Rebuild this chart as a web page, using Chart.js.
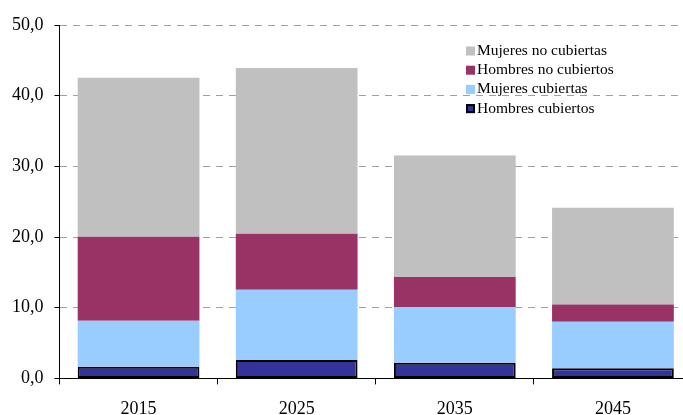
<!DOCTYPE html>
<html>
<head>
<meta charset="utf-8">
<script src="https://cdn.jsdelivr.net/npm/chart.js@4"></script>
<style>
  html, body { margin: 0; padding: 0; overflow: hidden; background: #fff; }
  #wrap { width: 694px; height: 434px; position: relative; }
</style>
</head>
<body>
<div id="wrap"><canvas id="chart"></canvas></div>
<script>
// values
const years = ["2015", "2025", "2035", "2045"];
const hombresCubiertos = [1.65, 2.6, 2.2, 1.45];
const mujeresCubiertas = [6.5, 9.93, 7.9, 6.55];
const hombresNoCubiertos = [11.9, 7.95, 4.25, 2.45];
const mujeresNoCubiertas = [22.5, 23.42, 17.2, 13.7];
const yTicks = [0, 10, 20, 30, 40, 50];

const serif = "'Liberation Serif', 'DejaVu Serif', serif";

// legend drawn inside the plot, top item = top of the stack
const insideLegend = {
    id: "insideLegend",
    afterDraw(chart) {
        const ctx = chart.ctx;
        const items = chart.data.datasets.slice().reverse();
        const x = 466, y0 = 51, step = 19.2, box = 9;
        ctx.save();
        ctx.font = "15.5px " + serif;
        ctx.textBaseline = "middle";
        items.forEach((ds, i) => {
            const y = y0 + i * step;
            ctx.fillStyle = ds.backgroundColor;
            ctx.fillRect(x, y - box / 2, box, box);
            if (ds.borderWidth) {
                ctx.lineWidth = 2;
                ctx.strokeStyle = ds.borderColor;
                ctx.strokeRect(x + 1, y - box / 2 + 1, box - 2, box - 2);
            }
            ctx.fillStyle = "#000";
            ctx.fillText(ds.label, x + 11, y);
        });
        ctx.restore();
    },
};

const ctx = document.getElementById("chart").getContext("2d");
new Chart(ctx, {
    type: "bar",
    data: {
        labels: years,
        datasets: [
            {
                label: "Hombres cubiertos",
                data: hombresCubiertos,
                backgroundColor: "#333399",
                borderColor: "#000000",
                borderWidth: 2,
                borderSkipped: false,
            },
            {
                label: "Mujeres cubiertas",
                data: mujeresCubiertas,
                backgroundColor: "#99CCFF",
                borderWidth: 0,
            },
            {
                label: "Hombres no cubiertos",
                data: hombresNoCubiertos,
                backgroundColor: "#993366",
                borderWidth: 0,
            },
            {
                label: "Mujeres no cubiertas",
                data: mujeresNoCubiertas,
                backgroundColor: "#C0C0C0",
                borderWidth: 0,
            },
        ],
    },
    options: {
        responsive: true,
        maintainAspectRatio: false,
        animation: false,
        barPercentage: 0.77,
        categoryPercentage: 1,
        layout: { padding: { top: 25, left: 1, right: 2, bottom: 0 } },
        plugins: {
            legend: { display: false },
            tooltip: { enabled: false },
        },
        scales: {
            x: {
                stacked: true,
                offset: true,
                grid: {
                    display: true,
                    offset: true,
                    drawOnChartArea: false,
                    drawTicks: true,
                    tickLength: 6,
                    tickColor: "#000",
                },
                border: { color: "#000", width: 1 },
                ticks: {
                    color: "#000",
                    padding: 14,
                    font: { family: serif, size: 18 },
                },
            },
            y: {
                stacked: true,
                min: 0,
                max: 50,
                afterBuildTicks: (axis) => {
                    axis.ticks = yTicks.map((v) => ({ value: v }));
                },
                grid: {
                    color: "#A0A0A0",
                    lineWidth: 1,
                    drawTicks: true,
                    tickLength: 5,
                    tickColor: "#000",
                    tickBorderDash: [],
                },
                border: { color: "#000", width: 1, dash: [7, 6] },
                ticks: {
                    color: "#000",
                    padding: 11,
                    font: { family: serif, size: 18 },
                    callback: (v) => Number(v).toFixed(1).replace(".", ","),
                },
            },
        },
    },
    plugins: [insideLegend],
});
</script>
</body>
</html>
